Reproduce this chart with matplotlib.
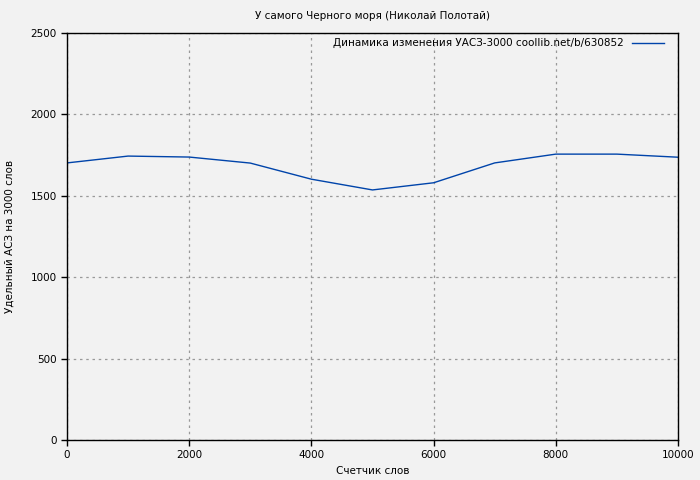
import matplotlib
matplotlib.use("Agg")
import matplotlib.pyplot as plt

words = [0, 1000, 2000, 3000, 4000, 5000, 6000, 7000, 8000, 9000, 10000]
asz = [1702, 1744, 1738, 1701, 1602, 1536, 1580, 1702, 1756, 1756, 1737]

x_ticks = [0, 2000, 4000, 6000, 8000, 10000]
y_ticks = [0, 500, 1000, 1500, 2000, 2500]

title = "У самого Черного моря (Николай Полотай)"
series_label = "Динамика изменения УАСЗ-3000 coollib.net/b/630852"

bg = "#f2f2f2"

fig = plt.figure(figsize=(7, 4.8), dpi=100, facecolor=bg)
ax = fig.add_axes([67 / 700, 40 / 480, 611 / 700, 407 / 480])
ax.set_facecolor(bg)

ax.plot(words, asz, color="#0044aa", linewidth=1.0, label=series_label)

ax.set_xlim(0, 10000)
ax.set_ylim(0, 2500)
ax.set_xticks(x_ticks)
ax.set_yticks(y_ticks)
ax.tick_params(direction="out", length=4, width=1, labelsize=7.5, colors="black")
ax.grid(True, color="#999999", linestyle=(0, (2, 3)), linewidth=0.9)

for s in ax.spines.values():
    s.set_color("black")
    s.set_linewidth(1.0)

ax.set_title(title, fontsize=7.5, pad=10)
ax.set_xlabel("Счетчик слов", fontsize=7.5, labelpad=4)
ax.set_ylabel("Удельный АСЗ на 3000 слов", fontsize=7.5, labelpad=11)

leg = ax.legend(loc="upper right", bbox_to_anchor=(1 - 7 / 611, 1 + 2 / 407),
                frameon=False, fontsize=7.5, markerfirst=False,
                handlelength=3.0, borderaxespad=0.3)

fig.savefig("out.png", dpi=100, facecolor=bg)
